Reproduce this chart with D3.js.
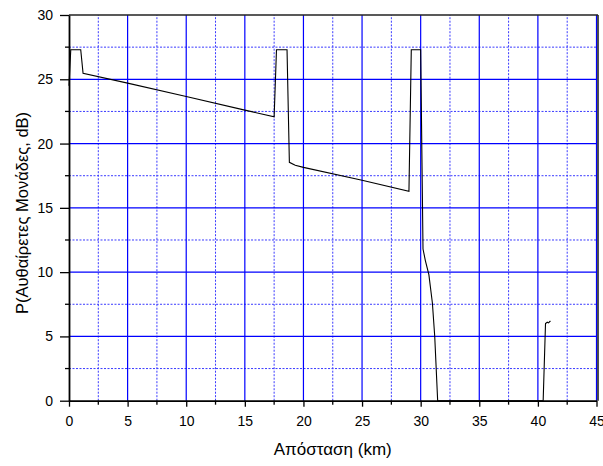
<!DOCTYPE html>
<html>
<head>
<meta charset="utf-8">
<script src="https://cdn.jsdelivr.net/npm/d3@7"></script>
<style>
  body { margin: 0; background: #fff; }
  text { font-family: Arial, "Liberation Sans", sans-serif; }
</style>
</head>
<body>
<svg id="chart" width="603" height="466"></svg>
<script>
// OTDR trace: distance (km) and power (dB)
var distances = [0, 0.15, 1.0, 1.2, 5, 10, 15, 17.5, 17.7, 18.6, 18.8, 19.3, 20, 25, 29, 29.2, 30.0, 30.2, 30.4, 30.7, 31.0, 31.2, 31.45, 40.45, 40.65, 40.8, 40.9, 41.07];
var powers    = [24.5, 27.3, 27.3, 25.46, 24.7, 23.66, 22.6, 22.09, 27.3, 27.3, 18.54, 18.32, 18.15, 17.15, 16.29, 27.3, 27.3, 11.8, 10.9, 9.8, 7.6, 5.0, 0, 0, 6.0, 6.1, 6.05, 6.2];

var xTicks = [0, 5, 10, 15, 20, 25, 30, 35, 40, 45];
var yTicks = [0, 5, 10, 15, 20, 25, 30];
var xMinor = [2.5, 7.5, 12.5, 17.5, 22.5, 27.5, 32.5, 37.5, 42.5];
var yMinor = [2.5, 7.5, 12.5, 17.5, 22.5, 27.5];

var xTitle = "Απόσταση (km)";
var yTitle = "P(Αυθαίρετες Μονάδες, dB)";

var svg = d3.select("#chart");
var margin = {top: 15, right: 6.5, bottom: 65.3, left: 69};
var width = +svg.attr("width");
var height = +svg.attr("height");

var x = d3.scaleLinear().domain([0, 45]).range([margin.left, width - margin.right]);
var y = d3.scaleLinear().domain([0, 30]).range([height - margin.bottom, margin.top]);

var trace = distances.map(function(d, i){ return {d: d, p: powers[i]}; });

// grid: minor dotted, major solid
var grid = svg.append("g").attr("class", "grid");
grid.selectAll(".vminor").data(xMinor).enter().append("line")
    .attr("x1", d => x(d)).attr("x2", d => x(d))
    .attr("y1", y(0)).attr("y2", y(30))
    .attr("stroke", "#3a3aff").attr("stroke-width", 1)
    .attr("stroke-dasharray", "2,1.5");
grid.selectAll(".hminor").data(yMinor).enter().append("line")
    .attr("y1", d => y(d)).attr("y2", d => y(d))
    .attr("x1", x(0)).attr("x2", x(45))
    .attr("stroke", "#3a3aff").attr("stroke-width", 1)
    .attr("stroke-dasharray", "2,1.5");
grid.selectAll(".vmajor").data(xTicks.slice(1)).enter().append("line")
    .attr("x1", d => x(d)).attr("x2", d => x(d))
    .attr("y1", y(0)).attr("y2", y(30))
    .attr("stroke", "#0000ff").attr("stroke-width", 1.2);
grid.selectAll(".hmajor").data(yTicks.slice(1, -1)).enter().append("line")
    .attr("y1", d => y(d)).attr("y2", d => y(d))
    .attr("x1", x(0)).attr("x2", x(45))
    .attr("stroke", "#0000ff").attr("stroke-width", 1.2);

// frame top and right
svg.append("line")
    .attr("x1", x(0)).attr("x2", x(45) + 1.5)
    .attr("y1", y(30)).attr("y2", y(30))
    .attr("stroke", "#222").attr("stroke-width", 1.6);
svg.append("line")
    .attr("x1", x(45) + 1.5).attr("x2", x(45) + 1.5)
    .attr("y1", y(30)).attr("y2", y(0))
    .attr("stroke", "#222").attr("stroke-width", 1.6);

// the trace
var line = d3.line().x(d => x(d.d)).y(d => y(d.p));
svg.append("path")
    .datum(trace)
    .attr("d", line)
    .attr("fill", "none")
    .attr("stroke", "#000")
    .attr("stroke-width", 1.1);

// axes
var xAxis = svg.append("g")
    .attr("transform", "translate(0," + y(0) + ")")
    .call(d3.axisBottom(x).tickValues(xTicks).tickSize(6).tickSizeOuter(0).tickPadding(9));
xAxis.selectAll("g.minor").data(xMinor).enter().append("line")
    .attr("x1", d => x(d)).attr("x2", d => x(d))
    .attr("y1", 0).attr("y2", 4)
    .attr("stroke", "#000").attr("stroke-width", 1.3);

var yAxis = svg.append("g")
    .attr("transform", "translate(" + x(0) + ",0)")
    .call(d3.axisLeft(y).tickValues(yTicks).tickSize(9).tickSizeOuter(0).tickPadding(7));
yAxis.selectAll("g.minor").data(yMinor).enter().append("line")
    .attr("y1", d => y(d)).attr("y2", d => y(d))
    .attr("x1", 0).attr("x2", -4)
    .attr("stroke", "#000").attr("stroke-width", 1.3);

[xAxis, yAxis].forEach(function(a){
    a.select(".domain").attr("stroke", "#000").attr("stroke-width", 1.8);
    a.selectAll(".tick line").attr("stroke", "#000").attr("stroke-width", 1.3);
    a.selectAll(".tick text")
        .style("font-family", "Arial, 'Liberation Sans', sans-serif")
        .style("font-size", "14px")
        .attr("fill", "#000");
});

// axis titles
svg.append("text")
    .attr("x", (x(0) + x(45)) / 2)
    .attr("y", 455)
    .attr("text-anchor", "middle")
    .style("font-size", "17px")
    .text(xTitle);

svg.append("text")
    .attr("transform", "rotate(-90)")
    .attr("x", -213)
    .attr("y", 28)
    .attr("text-anchor", "middle")
    .style("font-size", "16.5px")
    .text(yTitle);
</script>
</body>
</html>
